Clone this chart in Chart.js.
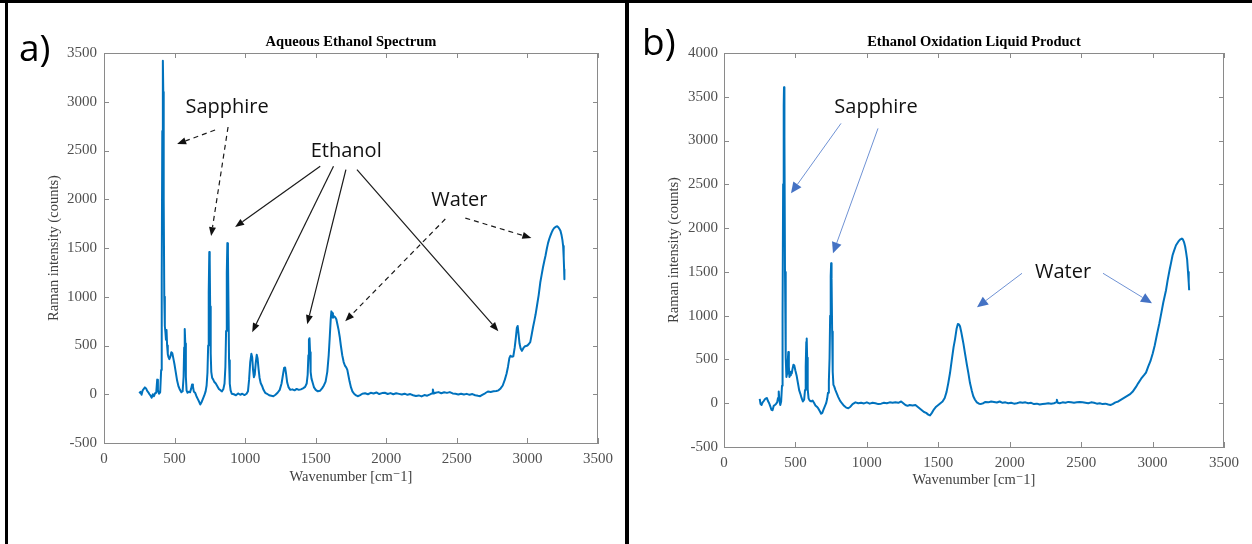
<!DOCTYPE html>
<html>
<head>
<meta charset="utf-8">
<script src="https://cdn.jsdelivr.net/npm/chart.js@4.4.1/dist/chart.umd.min.js"></script>
<style>
  html, body { margin: 0; padding: 0; background: #fff; }
  body { width: 1252px; height: 544px; position: relative; overflow: hidden; }
  canvas { position: absolute; top: 0; }
  #chartA { left: 0; }
  #chartB { left: 628px; }
  .rule { position: absolute; background: #000; }
  .tag { position: absolute; font-family: "Open Sans", sans-serif; font-size: 37px; line-height: 1; color: #000; }
</style>
</head>
<body>
<canvas id="chartA" width="626" height="544"></canvas>
<canvas id="chartB" width="624" height="544"></canvas>
<div class="rule" style="left:0;top:0;width:1252px;height:3px"></div>
<div class="rule" style="left:5px;top:0;width:3px;height:544px"></div>
<div class="rule" style="left:625px;top:0;width:4px;height:544px"></div>
<div class="tag" style="left:19px;top:28px">a)</div>
<div class="tag" style="left:642px;top:22px">b)</div>
<script>
// Panel a: aqueous ethanol spectrum (wavenumber, counts)
const waveA = [
  250, 258, 266, 274, 282, 290, 298, 306, 314, 322, 330, 338, 346, 354, 362, 370, 377, 382, 390, 398,
  405, 409, 413, 417, 420, 423, 427, 431, 435, 439, 443, 447, 452, 457, 463, 470, 477, 484, 491, 499,
  508, 518, 528, 538, 548, 557, 564, 568, 572, 576, 580, 585, 592, 600, 610, 618, 624, 630, 637, 646,
  655, 665, 675, 682, 690, 700, 710, 720, 727, 733, 738, 742, 746, 749, 752, 756, 760, 766, 774, 782,
  792, 802, 814, 826, 836, 846, 854, 860, 865, 870, 874, 878, 882, 886, 891, 897, 905, 920, 935, 950,
  965, 980, 995, 1010, 1020, 1028, 1036, 1044, 1050, 1056, 1062, 1068, 1075, 1082, 1088, 1095, 1102, 1110, 1120, 1130,
  1142, 1155, 1170, 1185, 1200, 1215, 1230, 1245, 1258, 1268, 1276, 1283, 1290, 1298, 1308, 1320, 1335, 1350, 1365, 1380,
  1395, 1410, 1425, 1436, 1443, 1448, 1452, 1456, 1460, 1464, 1470, 1478, 1488, 1500, 1515, 1530, 1545, 1558, 1570, 1582,
  1592, 1600, 1606, 1611, 1616, 1622, 1630, 1638, 1646, 1654, 1662, 1670, 1678, 1688, 1698, 1708, 1716, 1724, 1732, 1740,
  1750, 1760, 1772, 1786, 1800, 1815, 1830, 1850, 1870, 1890, 1910, 1930, 1950, 1970, 1990, 2010, 2030, 2050, 2070, 2090,
  2110, 2130, 2150, 2170, 2190, 2210, 2230, 2250, 2270, 2290, 2310, 2324, 2330, 2336, 2350, 2370, 2390, 2410, 2430, 2450,
  2470, 2490, 2510, 2530, 2550, 2570, 2590, 2610, 2630, 2650, 2665, 2680, 2700, 2720, 2740, 2760, 2780, 2795, 2810, 2825,
  2840, 2852, 2862, 2872, 2880, 2890, 2900, 2910, 2918, 2925, 2931, 2937, 2944, 2952, 2961, 2970, 2980, 2990, 3000, 3010,
  3020, 3030, 3040, 3050, 3058, 3068, 3080, 3091, 3100, 3110, 3120, 3128, 3137, 3146, 3155, 3163, 3172, 3180, 3188, 3196,
  3204, 3212, 3220, 3227, 3234, 3242, 3248, 3253, 3257, 3260, 3262
];
const countsA = [
  10, 25, -5, 40, 55, 70, 60, 35, 20, 0, -15, -35, 0, -20, 10, 15, 150, 40, 5, 20,
  250, 1200, 2700, 3420, 3100, 2000, 1000, 700, 640, 560, 660, 500, 410, 380, 360, 385, 430, 420, 370, 310,
  230, 140, 80, 45, 20, 30, 180, 480, 670, 520, 180, 40, 15, 25, 20, 60, 100, 80, 25, 15,
  -20, -50, -80, -105, -85, -50, -15, 30, 90, 220, 500, 1050, 1460, 1380, 900, 420, 230, 170, 150, 125,
  110, 85, 55, 40, 30, 55, 110, 280, 650, 1250, 1550, 1450, 900, 350, 110, 40, 5, 0, -10, 8,
  -5, 5, -8, 5, 30, 150, 330, 415, 380, 250, 175, 200, 320, 405, 370, 260, 170, 115, 85, 45,
  15, 5, -10, -15, -20, -5, 15, 45, 110, 200, 270, 275, 210, 120, 70, 45, 50, 40, 55, 45,
  50, 60, 75, 110, 200, 400, 560, 575, 430, 230, 160, 120, 70, 45, 30, 35, 60, 90, 130, 230,
  400, 600, 760, 850, 830, 785, 800, 790, 770, 715, 660, 590, 500, 400, 330, 290, 275, 250, 190, 130,
  70, 30, 5, -12, -20, -8, 5, 10, 0, 15, 8, 18, 2, 12, 15, 3, 12, 0, 10, 4,
  -2, 6, -6, 2, -10, -18, -12, -22, -8, -15, -2, 8, 50, 8, 15, 22, 10, 20, 14, 22,
  8, 5, -2, 6, -2, 4, -6, 2, -10, -16, -20, -6, 10, 28, 24, 30, 33, 40, 60, 90,
  150, 210, 280, 370, 395, 385, 390, 480, 580, 680, 700, 620, 520, 470, 445, 470, 490, 495, 500, 515,
  535, 610, 690, 760, 820, 910, 1020, 1146, 1220, 1300, 1370, 1420, 1490, 1550, 1595, 1626, 1660, 1685, 1702, 1712,
  1720, 1722, 1710, 1695, 1677, 1630, 1580, 1520, 1400, 1280, 1180
];

// Panel b: ethanol oxidation liquid product (wavenumber, counts)
const waveB = [
  250, 256, 263, 270, 278, 286, 294, 300, 308, 316, 324, 332, 340, 348, 356, 364, 372, 378, 383, 388,
  394, 400, 406, 410, 414, 418, 420, 423, 427, 432, 437, 442, 446, 450, 454, 458, 463, 468, 474, 480,
  486, 492, 500, 509, 518, 526, 534, 543, 552, 561, 567, 572, 576, 579, 582, 586, 592, 600, 610, 620,
  630, 640, 650, 660, 670, 680, 688, 695, 705, 715, 722, 728, 734, 739, 743, 747, 750, 753, 757, 761,
  766, 772, 780, 790, 800, 812, 825, 840, 855, 870, 885, 900, 920, 940, 960, 980, 1000, 1020, 1040, 1060,
  1080, 1100, 1120, 1140, 1160, 1180, 1200, 1220, 1240, 1255, 1270, 1285, 1300, 1320, 1340, 1355, 1370, 1385, 1400, 1415,
  1430, 1442, 1455, 1470, 1485, 1500, 1515, 1530, 1545, 1558, 1570, 1582, 1595, 1607, 1617, 1628, 1637, 1645, 1652, 1660,
  1668, 1676, 1687, 1700, 1710, 1722, 1735, 1745, 1757, 1770, 1785, 1800, 1815, 1830, 1850, 1870, 1890, 1910, 1930, 1950,
  1970, 1990, 2010, 2030, 2050, 2070, 2090, 2110, 2130, 2150, 2170, 2190, 2210, 2230, 2250, 2270, 2290, 2310, 2324, 2330,
  2336, 2350, 2370, 2390, 2410, 2430, 2450, 2470, 2490, 2510, 2530, 2550, 2570, 2590, 2610, 2630, 2650, 2670, 2690, 2705,
  2720, 2740, 2760, 2780, 2800, 2820, 2840, 2860, 2884, 2900, 2920, 2940, 2954, 2970, 2985, 3001, 3015, 3030, 3047, 3060,
  3075, 3094, 3105, 3120, 3129, 3140, 3150, 3164, 3180, 3192, 3205, 3212, 3220, 3228, 3235, 3242, 3248, 3253, 3256
];
const countsB = [
  50, -10, -20, 10, 25, 45, 55, 60, 25, 0, -35, -75, -80, -30, -20, -8, 10, 60, 135, 30,
  -20, 20, 200, 1000, 2500, 3400, 3610, 3050, 1500, 520, 300, 340, 470, 585, 420, 300, 320, 360, 340, 395,
  440, 430, 370, 310, 225, 150, 110, 60, 20, 40, 150, 420, 700, 740, 520, 160, 55, 30, 20, 30,
  5, -25, -40, -60, -90, -120, -110, -80, -40, 0, 50, 120, 250, 520, 1000, 1450, 1600, 1420, 820, 360,
  210, 190, 150, 110, 70, 30, 0, -30, -50, -57, -40, -10, 10, 0, 5, -2, 10, -5, 5, 0,
  -10, -5, 5, 0, 10, 5, 10, 5, 20, 0, -20, -30, -20, -25, -20, -40, -60, -80, -100, -110,
  -130, -140, -110, -70, -40, -20, 0, 20, 60, 130, 230, 345, 500, 640, 730, 850, 905, 900, 880, 820,
  750, 680, 570, 440, 350, 230, 140, 80, 40, 10, -5, -8, 0, 15, 10, 20, 15, 8, 20, 5,
  10, 0, 5, -5, 0, 10, 5, 10, 0, 5, -10, -5, -15, -10, -5, 0, -5, 0, 10, 40,
  5, 0, 10, 5, 15, 10, 5, 10, 15, 10, 5, 0, 10, 5, -5, 0, -10, -5, -15, -20,
  -10, 10, 20, 40, 60, 80, 100, 130, 186, 230, 280, 320, 350, 420, 480, 567, 660, 780, 909, 1020,
  1150, 1290, 1400, 1530, 1600, 1690, 1740, 1804, 1845, 1868, 1880, 1872, 1840, 1790, 1720, 1640, 1500, 1380, 1290
];

// call-outs, placed in data units: [fromX, fromY, toX, toY, dashed]
const labelsA = [
  { text: 'Sapphire', x: 872, y: 2947 },
  { text: 'Ethanol', x: 1716, y: 2495 },
  { text: 'Water', x: 2518, y: 1992 }
];
const arrowsA = [
  [787, 2710, 518, 2567, true],
  [879, 2741, 759, 1622, true],
  [1532, 2338, 929, 1715, false],
  [1626, 2338, 1050, 637, false],
  [1714, 2303, 1440, 719, false],
  [1792, 2303, 2794, 647, false],
  [2418, 1797, 1709, 749, true],
  [2560, 1807, 3028, 1602, true]
];
const labelsB = [
  { text: 'Sapphire', x: 1064, y: 3379 },
  { text: 'Water', x: 2373, y: 1495 }
];
const arrowsB = [
  [819, 3196, 469, 2397, false],
  [1078, 3139, 763, 1712, false],
  [2086, 1484, 1771, 1096, false],
  [2653, 1484, 2996, 1142, false]
];

const lineColor = '#0072BD';
const axisColor = '#8a8a8a';
const tickColor = '#505050';
const serif = '"Liberation Serif", "DejaVu Serif", serif';

function drawArrow(ctx, x1, y1, x2, y2, dashed, style) {
    const ang = Math.atan2(y2 - y1, x2 - x1);
    const bx = x2 - style.head * Math.cos(ang);
    const by = y2 - style.head * Math.sin(ang);
    ctx.strokeStyle = style.line;
    ctx.lineWidth = style.width;
    ctx.setLineDash(dashed ? [5, 4] : []);
    ctx.beginPath();
    ctx.moveTo(x1, y1);
    ctx.lineTo(bx, by);
    ctx.stroke();
    ctx.setLineDash([]);
    ctx.fillStyle = style.fill;
    ctx.beginPath();
    ctx.moveTo(x2, y2);
    ctx.lineTo(bx + style.half * Math.sin(ang), by - style.half * Math.cos(ang));
    ctx.lineTo(bx - style.half * Math.sin(ang), by + style.half * Math.cos(ang));
    ctx.closePath();
    ctx.fill();
}

// box, inward ticks, title and call-outs (MATLAB look)
const framePlugin = {
    id: 'frame',
    afterDatasetsDraw(chart, args, opts) {
        const { ctx, chartArea: a, scales: { x, y } } = chart;
        ctx.save();
        ctx.strokeStyle = axisColor;
        ctx.lineWidth = 1;
        ctx.strokeRect(a.left + 0.5, a.top + 0.5, a.right - a.left - 1, a.bottom - a.top);
        ctx.beginPath();
        x.ticks.forEach(t => {
            const px = Math.round(x.getPixelForValue(t.value)) + 0.5;
            ctx.moveTo(px, a.bottom); ctx.lineTo(px, a.bottom - 5);
            ctx.moveTo(px, a.top); ctx.lineTo(px, a.top + 5);
        });
        y.ticks.forEach(t => {
            const py = Math.round(y.getPixelForValue(t.value)) + 0.5;
            ctx.moveTo(a.left, py); ctx.lineTo(a.left + 5, py);
            ctx.moveTo(a.right, py); ctx.lineTo(a.right - 5, py);
        });
        ctx.stroke();

        ctx.fillStyle = '#000';
        ctx.font = 'bold 14.5px ' + serif;
        ctx.textAlign = 'center';
        ctx.textBaseline = 'middle';
        ctx.fillText(opts.title, (a.left + a.right) / 2, a.top - 11);

        ctx.font = '20px "Open Sans", sans-serif';
        ctx.fillStyle = '#111';
        opts.labels.forEach(l => {
            ctx.fillText(l.text, x.getPixelForValue(l.x), y.getPixelForValue(l.y));
        });
        opts.arrows.forEach(r => {
            drawArrow(ctx, x.getPixelForValue(r[0]), y.getPixelForValue(r[1]),
                x.getPixelForValue(r[2]), y.getPixelForValue(r[3]), r[4], opts.arrowStyle);
        });
        ctx.restore();
    }
};

function makeChart(canvasId, wave, counts, cfg) {
    const points = wave.map((w, i) => ({ x: w, y: counts[i] }));
    const tickFont = { family: serif, size: 15 };
    const titleFont = { family: serif, size: 14.5 };
    return new Chart(document.getElementById(canvasId), {
        type: 'line',
        data: {
            datasets: [{
                data: points,
                borderColor: lineColor,
                borderWidth: 2,
                borderJoinStyle: 'round',
                pointRadius: 0,
                tension: 0,
                fill: false
            }]
        },
        options: {
            responsive: false,
            animation: false,
            devicePixelRatio: 1,
            layout: { padding: { top: 53, right: cfg.padRight, left: 0, bottom: 0 } },
            plugins: {
                legend: { display: false },
                tooltip: { enabled: false },
                frame: {
                    title: cfg.title,
                    labels: cfg.labels,
                    arrows: cfg.arrows,
                    arrowStyle: cfg.arrowStyle
                }
            },
            scales: {
                x: {
                    type: 'linear',
                    min: 0,
                    max: 3500,
                    ticks: { stepSize: 500, autoSkip: false, maxRotation: 0, padding: 7, color: tickColor, font: tickFont, callback: v => String(v) },
                    grid: { drawOnChartArea: false, drawTicks: false },
                    border: { color: axisColor },
                    title: { display: true, text: 'Wavenumber [cm\u207B1]', color: '#404040', font: titleFont, padding: { top: 0, bottom: cfg.xTitlePad } },
                    afterFit: s => { s.height = cfg.xAxisHeight; }
                },
                y: {
                    min: -500,
                    max: cfg.yMax,
                    ticks: { stepSize: 500, autoSkip: false, padding: cfg.yTickPad, color: tickColor, font: tickFont, callback: v => String(v) },
                    grid: { drawOnChartArea: false, drawTicks: false },
                    border: { color: axisColor },
                    title: { display: true, text: 'Raman intensity (counts)', color: '#404040', font: titleFont, padding: { top: cfg.yTitlePad, bottom: 0 } },
                    afterFit: s => { s.width = cfg.yAxisWidth; }
                }
            }
        },
        plugins: [framePlugin]
    });
}

makeChart('chartA', waveA, countsA, {
    title: 'Aqueous Ethanol Spectrum',
    yMax: 3500,
    padRight: 28,
    yAxisWidth: 104,
    xAxisHeight: 101,
    yTickPad: 7,
    yTitlePad: 45.3,
    xTitlePad: 58.3,
    labels: labelsA,
    arrows: arrowsA,
    arrowStyle: { line: '#1a1a1a', fill: '#111', width: 1.2, head: 9, half: 3.5 }
});

makeChart('chartB', waveB, countsB, {
    title: 'Ethanol Oxidation Liquid Product',
    yMax: 4000,
    padRight: 28,
    yAxisWidth: 96,
    xAxisHeight: 97,
    yTickPad: 6,
    yTitlePad: 37.3,
    xTitlePad: 55.3,
    labels: labelsB,
    arrows: arrowsB,
    arrowStyle: { line: '#6f92d4', fill: '#4472C4', width: 1, head: 11, half: 5 }
});
</script>
</body>
</html>
